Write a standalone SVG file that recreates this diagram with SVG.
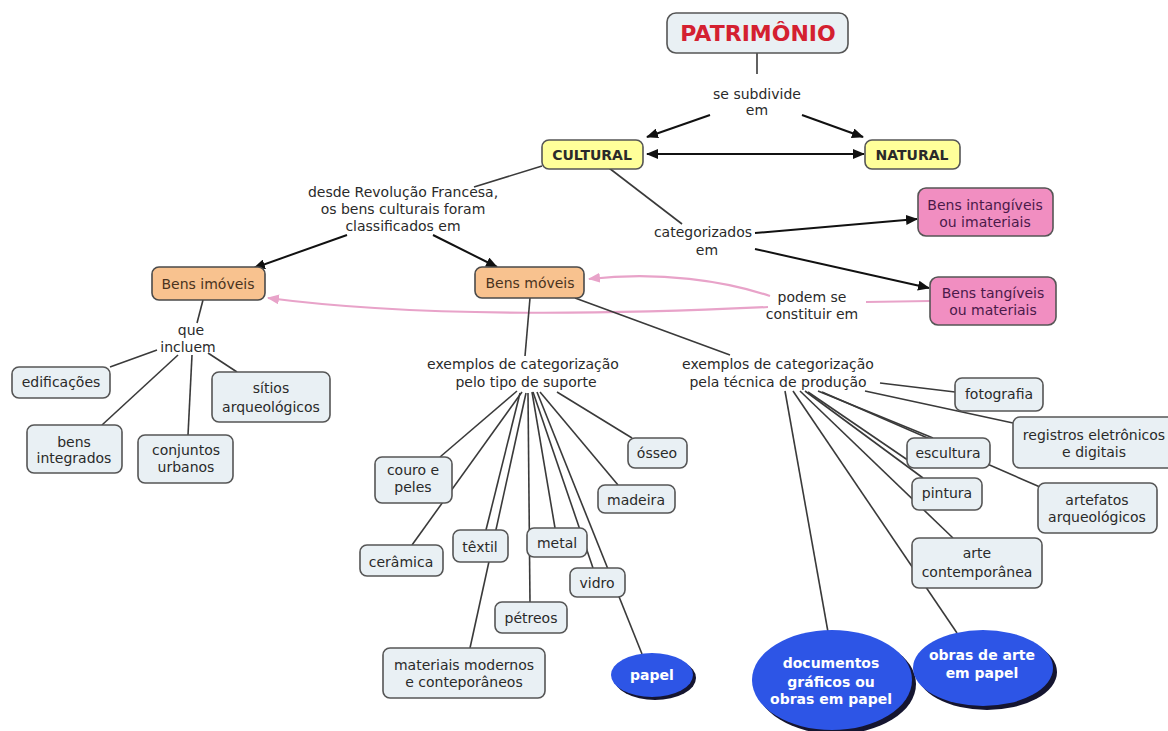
<svg xmlns="http://www.w3.org/2000/svg" width="1168" height="731" viewBox="0 0 1168 731">
<defs>
<marker id="ah" markerWidth="12" markerHeight="10" refX="11" refY="5" orient="auto-start-reverse" markerUnits="userSpaceOnUse"><path d="M0,0 L12,5 L0,10 z" fill="#111"/></marker>
<marker id="ahp" markerWidth="12" markerHeight="10" refX="11" refY="5" orient="auto" markerUnits="userSpaceOnUse"><path d="M0,0 L12,5 L0,10 z" fill="#e8a3c9"/></marker>
<style>
text{font-family:"DejaVu Sans",Verdana,sans-serif;font-size:14px;fill:#2a2a2a;text-anchor:middle}
.c{stroke:#3a3a3a;stroke-width:1.6;fill:none}
.a{stroke:#111;stroke-width:2;fill:none}
.p{stroke:#e8a3c9;stroke-width:2.2;fill:none}
.n rect{fill:#e9f0f4;stroke:#555;stroke-width:1.6}
.y rect{fill:#ffff9a;stroke:#555;stroke-width:1.6}
.o rect{fill:#f8c28f;stroke:#4a4a4a;stroke-width:1.6}
.k rect{fill:#f18ec1;stroke:#555;stroke-width:1.6}
.k text{fill:#4b1a4a}
.o text{fill:#4a3320}
.b{font-weight:bold}
.e .sh{fill:#151530}
.e .el{fill:#2d55e6}
.e text{fill:#fff;font-weight:bold}
</style>
</defs>
<rect width="1168" height="731" fill="#fff"/>
<g id="connectors">
<line class="c" x1="757" y1="53" x2="757" y2="74"/>
<line class="a" x1="710" y1="115" x2="647" y2="137" marker-end="url(#ah)"/>
<line class="a" x1="802" y1="115" x2="863" y2="137" marker-end="url(#ah)"/>
<line class="a" x1="647" y1="154" x2="864" y2="154" marker-start="url(#ah)" marker-end="url(#ah)"/>
<line class="c" x1="542" y1="166" x2="474" y2="187"/>
<line class="c" x1="609" y1="168" x2="682" y2="224"/>
<line class="a" x1="347" y1="235" x2="254" y2="268" marker-end="url(#ah)"/>
<line class="a" x1="433" y1="235" x2="497" y2="267" marker-end="url(#ah)"/>
<line class="a" x1="755" y1="233" x2="917" y2="219" marker-end="url(#ah)"/>
<line class="a" x1="755" y1="249" x2="929" y2="288" marker-end="url(#ah)"/>
<line class="p" x1="866" y1="302" x2="930" y2="301"/>
<path class="p" d="M770,296 C725,281 660,271 589,279" marker-end="url(#ahp)"/>
<path class="p" d="M768,307 Q450,322 268,298" marker-end="url(#ahp)"/>
<line class="c" x1="203" y1="300" x2="197" y2="323"/>
<line class="c" x1="157" y1="350" x2="110" y2="367"/>
<line class="c" x1="178" y1="355" x2="102" y2="425"/>
<line class="c" x1="192" y1="355" x2="188" y2="435"/>
<line class="c" x1="208" y1="353" x2="237" y2="372"/>
<line class="c" x1="530" y1="298" x2="525" y2="356"/>
<line class="c" x1="575" y1="298" x2="730" y2="355"/>
<line class="c" x1="517" y1="391" x2="440" y2="457"/>
<line class="c" x1="522" y1="392" x2="412" y2="545"/>
<line class="c" x1="520" y1="393" x2="486" y2="530"/>
<line class="c" x1="526" y1="393" x2="470" y2="648"/>
<line class="c" x1="528" y1="393" x2="530" y2="602"/>
<line class="c" x1="532" y1="392" x2="555" y2="528"/>
<line class="c" x1="533" y1="392" x2="593" y2="568"/>
<line class="c" x1="537" y1="392" x2="642" y2="654"/>
<line class="c" x1="540" y1="392" x2="618" y2="485"/>
<line class="c" x1="557" y1="392" x2="632" y2="438"/>
<line class="c" x1="880" y1="383" x2="955" y2="392"/>
<line class="c" x1="865" y1="391" x2="1013" y2="423"/>
<line class="c" x1="785" y1="391" x2="828" y2="632"/>
<line class="c" x1="793" y1="391" x2="957" y2="633"/>
<line class="c" x1="800" y1="391" x2="953" y2="538"/>
<line class="c" x1="805" y1="391" x2="923" y2="478"/>
<line class="c" x1="808" y1="392" x2="915" y2="465"/>
<line class="c" x1="818" y1="391" x2="933" y2="438"/>
<line class="c" x1="822" y1="392" x2="1040" y2="487"/>
</g>
<g id="labels">
<text x="757" y="99">se subdivide</text><text x="757" y="115">em</text>
<text x="403" y="197">desde Revolução Francesa,</text><text x="403" y="214">os bens culturais foram</text><text x="403" y="231">classificados em</text>
<text x="703" y="237">categorizados</text><text x="707" y="255">em</text>
<text x="812" y="302">podem se</text><text x="812" y="319">constituir em</text>
<text x="191" y="335">que</text><text x="188" y="352">incluem</text>
<text x="523" y="369">exemplos de categorização</text><text x="526" y="387">pelo tipo de suporte</text>
<text x="778" y="369">exemplos de categorização</text><text x="778" y="387">pela técnica de produção</text>
</g>
<g id="patrimonio" class="n"><rect x="667" y="13" width="181" height="40" rx="9"/><text x="758" y="41" class="b" style="font-size:22px;fill:#d42030">PATRIMÔNIO</text></g>
<g id="cultural" class="y"><rect x="542" y="140" width="101" height="29" rx="7"/><text x="592" y="160" class="b">CULTURAL</text></g>
<g id="natural" class="y"><rect x="865" y="140" width="95" height="29" rx="7"/><text x="912" y="160" class="b">NATURAL</text></g>
<g id="bens-imoveis" class="o"><rect x="152" y="267" width="113" height="33" rx="7"/><text x="208" y="289">Bens imóveis</text></g>
<g id="bens-moveis" class="o"><rect x="475" y="267" width="109" height="31" rx="7"/><text x="530" y="288">Bens móveis</text></g>
<g id="intangiveis" class="k"><rect x="918" y="188" width="135" height="48" rx="8"/><text x="985" y="210">Bens intangíveis</text><text x="985" y="227">ou imateriais</text></g>
<g id="tangiveis" class="k"><rect x="930" y="277" width="126" height="48" rx="8"/><text x="993" y="298">Bens tangíveis</text><text x="993" y="315">ou materiais</text></g>
<g id="edificacoes" class="n"><rect x="12" y="367" width="98" height="31" rx="7"/><text x="61" y="387">edificações</text></g>
<g id="sitios" class="n"><rect x="212" y="372" width="118" height="50" rx="7"/><text x="271" y="393">sítios</text><text x="271" y="412">arqueológicos</text></g>
<g id="bens-integrados" class="n"><rect x="27" y="425" width="95" height="48" rx="7"/><text x="74" y="447">bens</text><text x="74" y="463">integrados</text></g>
<g id="conjuntos" class="n"><rect x="138" y="435" width="95" height="48" rx="7"/><text x="186" y="455">conjuntos</text><text x="186" y="472">urbanos</text></g>
<g id="couro" class="n"><rect x="375" y="457" width="77" height="46" rx="7"/><text x="413" y="475">couro e</text><text x="413" y="492">peles</text></g>
<g id="ceramica" class="n"><rect x="360" y="545" width="83" height="31" rx="7"/><text x="401" y="567">cerâmica</text></g>
<g id="textil" class="n"><rect x="453" y="530" width="55" height="32" rx="7"/><text x="480" y="552">têxtil</text></g>
<g id="metal" class="n"><rect x="527" y="528" width="60" height="29" rx="7"/><text x="557" y="548">metal</text></g>
<g id="vidro" class="n"><rect x="570" y="568" width="55" height="29" rx="7"/><text x="597" y="588">vidro</text></g>
<g id="petreos" class="n"><rect x="495" y="602" width="72" height="31" rx="7"/><text x="531" y="623">pétreos</text></g>
<g id="materiais" class="n"><rect x="383" y="648" width="162" height="50" rx="7"/><text x="464" y="670">materiais modernos</text><text x="464" y="687">e conteporâneos</text></g>
<g id="osseo" class="n"><rect x="628" y="438" width="59" height="30" rx="7"/><text x="657" y="458">ósseo</text></g>
<g id="madeira" class="n"><rect x="598" y="485" width="77" height="28" rx="7"/><text x="636" y="505">madeira</text></g>
<g id="papel" class="e"><ellipse class="sh" cx="655" cy="678" rx="41" ry="22"/><ellipse class="el" cx="652" cy="675" rx="41" ry="22"/><text x="652" y="680">papel</text></g>
<g id="fotografia" class="n"><rect x="955" y="378" width="88" height="33" rx="7"/><text x="999" y="399">fotografia</text></g>
<g id="registros" class="n"><rect x="1013" y="417" width="170" height="51" rx="7"/><text x="1094" y="440">registros eletrônicos</text><text x="1094" y="457">e digitais</text></g>
<g id="escultura" class="n"><rect x="907" y="438" width="83" height="30" rx="7"/><text x="948" y="458">escultura</text></g>
<g id="pintura" class="n"><rect x="912" y="478" width="70" height="32" rx="7"/><text x="947" y="498">pintura</text></g>
<g id="artefatos" class="n"><rect x="1038" y="483" width="119" height="50" rx="7"/><text x="1097" y="505">artefatos</text><text x="1097" y="522">arqueológicos</text></g>
<g id="arte-contemporanea" class="n"><rect x="912" y="538" width="130" height="50" rx="7"/><text x="977" y="558">arte</text><text x="977" y="577">contemporânea</text></g>
<g id="documentos" class="e"><ellipse class="sh" cx="836" cy="684" rx="80" ry="50"/><ellipse class="el" cx="832" cy="680" rx="80" ry="50"/><text x="831" y="668">documentos</text><text x="831" y="687">gráficos ou</text><text x="831" y="704">obras em papel</text></g>
<g id="obras-arte" class="e"><ellipse class="sh" cx="987" cy="672" rx="70" ry="38"/><ellipse class="el" cx="983" cy="668" rx="70" ry="38"/><text x="982" y="660">obras de arte</text><text x="982" y="678">em papel</text></g>
</svg>
